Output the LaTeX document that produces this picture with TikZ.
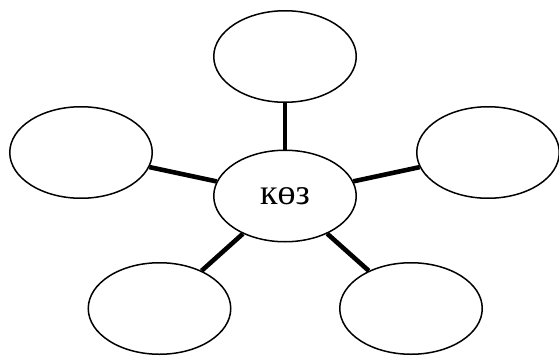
\documentclass[tikz,border=0pt]{standalone}
\usepackage{fontspec}
\setmainfont{Liberation Serif}
\usetikzlibrary{shapes.geometric}
\begin{document}
\begin{tikzpicture}[x=1pt,y=-1pt,
  bubble/.style={draw=black, line width=1.5pt, ellipse, inner sep=0pt,
    minimum width=142.5pt, minimum height=91.5pt, fill=white},
  link/.style={draw=black, line width=4.6pt}]
\useasboundingbox (0,0) rectangle (559,356);
\node[bubble, font=\fontsize{36}{40}\selectfont] (c) at (285,196) {көз};
\node[bubble] (t) at (285,56.5) {};
\node[bubble] (l) at (81,152.5) {};
\node[bubble] (r) at (488,152.5) {};
\node[bubble] (bl) at (159.5,308.5) {};
\node[bubble] (br) at (411,308.5) {};
\foreach \n in {t,l,r,bl,br}{\draw[link] (c) -- (\n);}
\end{tikzpicture}
\end{document}
